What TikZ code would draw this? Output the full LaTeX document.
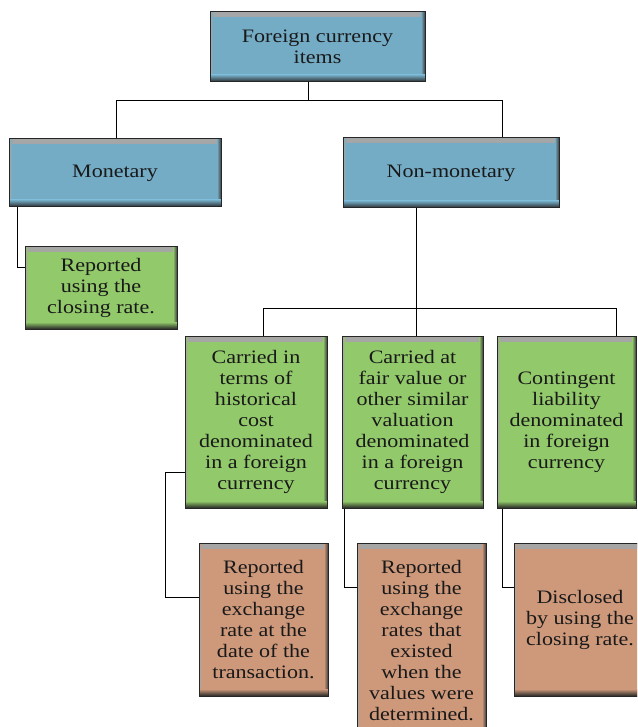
\documentclass[tikz,border=0pt]{standalone}
\usepackage{fontspec}
\setmainfont{Liberation Serif}[FakeStretch=1.16]
\usetikzlibrary{calc}
\definecolor{boxblue}{RGB}{116,172,198}
\definecolor{boxgreen}{RGB}{146,201,106}
\definecolor{boxbrown}{RGB}{206,153,123}
\tikzset{
  cbox/.style={draw=black!85, line width=1pt, fill=#1, inner sep=0pt, align=center,
    font=\fontsize{19}{21}\selectfont, text=black!90,
    path picture={
      \fill[top color=black!35, bottom color=#1] (path picture bounding box.north west) rectangle ([yshift=-5pt]path picture bounding box.north east);
      \fill[left color=black!35, right color=#1] (path picture bounding box.north west) rectangle ([xshift=3pt]path picture bounding box.south west);
      \fill[left color=#1, right color=black!75] ([xshift=-4pt]path picture bounding box.north east) rectangle (path picture bounding box.south east);
      \fill[top color=#1, bottom color=black!85] ([yshift=7pt]path picture bounding box.south west) rectangle (path picture bounding box.south east);
    }},
  conn/.style={draw=black, line width=0.8pt},
}
\begin{document}
\begin{tikzpicture}[x=1pt,y=-1pt]
\useasboundingbox (0,0) rectangle (637,727);
\fill[white] (0,0) rectangle (637,727);
\clip (0,0) rectangle (637,727);

% nodes
\node[cbox=boxblue, minimum width=215pt, minimum height=70pt] (top) at (317.5,47) {Foreign currency\\items};
\node[cbox=boxblue, minimum width=212pt, minimum height=68pt] (mon) at (115,173) {Monetary};
\node[cbox=boxblue, minimum width=216pt, minimum height=70pt] (non) at (451,173) {Non-monetary};
\node[cbox=boxgreen, minimum width=152pt, minimum height=83pt] (rep) at (101,287.5) {Reported\\using the\\closing rate.};
\node[cbox=boxgreen, minimum width=142pt, minimum height=172pt] (g1) at (256,422) {Carried in\\terms of\\historical\\cost\\denominated\\in a foreign\\currency};
\node[cbox=boxgreen, minimum width=141pt, minimum height=172pt] (g2) at (412.5,422) {Carried at\\fair value or\\other similar\\valuation\\denominated\\in a foreign\\currency};
\node[cbox=boxgreen, minimum width=139pt, minimum height=172pt] (g3) at (566.5,422) {Contingent\\liability\\denominated\\in foreign\\currency};
\node[cbox=boxbrown, minimum width=129pt, minimum height=153pt] (b1) at (263.5,619.5) {Reported\\using the\\exchange\\rate at the\\date of the\\transaction.};
\node[cbox=boxbrown, minimum width=129pt, minimum height=196pt] (b2) at (421.5,641) {Reported\\using the\\exchange\\rates that\\existed\\when the\\values were\\determined.};
\node[cbox=boxbrown, minimum width=132pt, minimum height=153pt] (b3) at (580,619.5) {Disclosed\\by using the\\closing rate.};

% junction coordinates
\coordinate (j0) at (308,100);
\coordinate (j0L) at (116,100);
\coordinate (j0R) at (502,100);
\coordinate (k0) at (17,267);
\coordinate (j1M) at (416,308);
\coordinate (j1L) at (263,308);
\coordinate (j1R) at (616,308);
\coordinate (k1a) at (165,472);
\coordinate (k1b) at (165,597);
\coordinate (k2) at (344,587);
\coordinate (k3) at (502,587);

% connectors
\draw[conn] (top.south -| j0) -- (j0);
\draw[conn] (mon.north -| j0L) |- (j0R) -- (non.north -| j0R);
\draw[conn] (mon.south -| k0) |- (rep.west |- k0);
\draw[conn] (non.south -| j1M) -- (g2.north -| j1M);
\draw[conn] (g1.north -| j1L) |- (j1R) -- (g3.north -| j1R);
\draw[conn] (g1.west |- k1a) -- (k1a) -- (k1b) -- (b1.west |- k1b);
\draw[conn] (g2.south -| k2) |- (b2.west |- k2);
\draw[conn] (g3.south -| k3) |- (b3.west |- k3);
\end{tikzpicture}
\end{document}
